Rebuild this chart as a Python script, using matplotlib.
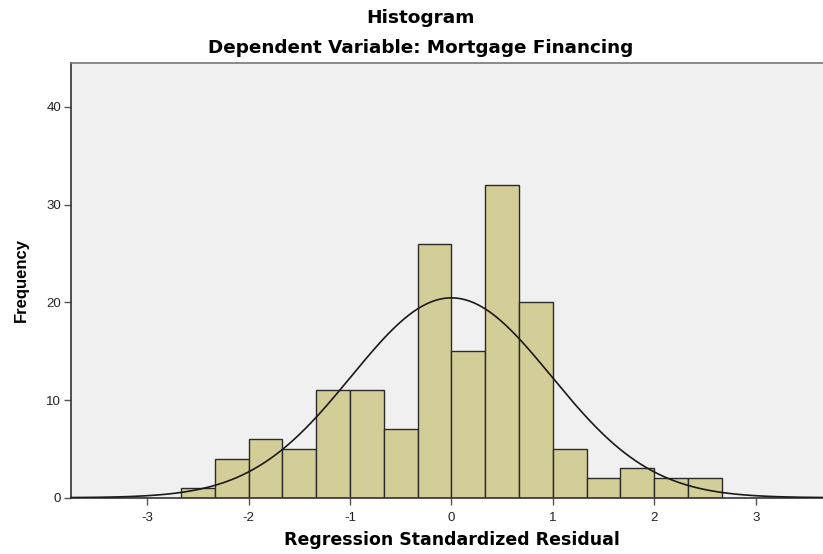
import numpy as np
import matplotlib
matplotlib.use("Agg")
import matplotlib.pyplot as plt

plt.rcParams['font.family'] = ['Liberation Sans', 'DejaVu Sans']
plt.rcParams['axes.unicode_minus'] = False

# histogram data (bin width 1/3, from -8/3 to 8/3)
bin_left = -8 / 3
bin_width = 1 / 3
counts = [1, 4, 6, 5, 11, 11, 7, 26, 15, 32, 20, 5, 2, 3, 2, 2]
resid_mean = 0.0
resid_sd = 0.988
n_total = sum(counts)

x_ticks = [-3, -2, -1, 0, 1, 2, 3]
y_ticks = [0, 10, 20, 30, 40]

fig = plt.figure(figsize=(8.23, 5.54), dpi=100)
ax = fig.add_axes([71 / 823, 1 - 497.7 / 554, 1 - 71 / 823 + 0.002, (497.7 - 63) / 554])
ax.set_facecolor('#f0f0f0')

edges = bin_left + bin_width * np.arange(len(counts))
ax.bar(edges, counts, width=bin_width, align='edge', color='#d3ce97',
       edgecolor='#2b2b2b', linewidth=1.0, zorder=2)

# normal curve
xs = np.linspace(-3.8, 3.8, 400)
ys = n_total * bin_width / (resid_sd * np.sqrt(2 * np.pi)) * np.exp(-0.5 * ((xs - resid_mean) / resid_sd) ** 2)
ax.plot(xs, ys, color='#1a1a1a', linewidth=1.2, zorder=3)

ax.set_xlim(-3.75, 3.68)
ax.set_ylim(0, 44.5)
ax.set_xticks(x_ticks)
ax.set_yticks(y_ticks)
ax.tick_params(axis='both', direction='out', length=5, width=1, color='#555555',
               labelsize=9.5, labelcolor='#222222')
ax.tick_params(axis='x', pad=5)
ax.tick_params(axis='y', pad=2)

ax.spines['right'].set_visible(False)
for side in ['left', 'bottom', 'top']:
    ax.spines[side].set_linewidth(1.2)
    ax.spines[side].set_color('#333333')
ax.spines['top'].set_color('#777777')

title_font = {'family': 'DejaVu Sans', 'fontweight': 'bold'}
fig.text(421 / 823, 1 - 18 / 554, 'Histogram', ha='center', va='center',
         fontsize=13.3, **title_font)
fig.text(421 / 823, 1 - 48 / 554, 'Dependent Variable: Mortgage Financing', ha='center',
         va='center', fontsize=13.2, **title_font)
fig.text(452 / 823, 1 - 540 / 554, 'Regression Standardized Residual', ha='center',
         va='center', fontsize=12.5, **title_font)
fig.text(21 / 823, 1 - 280 / 554, 'Frequency', ha='center', va='center', rotation=90,
         fontsize=12, fontweight='bold')

fig.savefig('out.png', dpi=100)
